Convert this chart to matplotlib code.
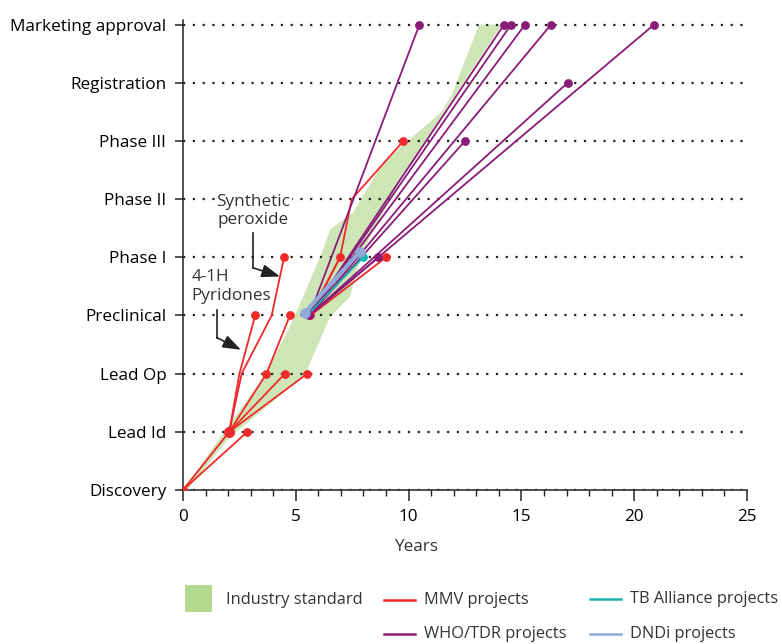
import matplotlib
matplotlib.use('Agg')
import matplotlib.pyplot as plt
from matplotlib.patches import Rectangle
from matplotlib.lines import Line2D

plt.rcParams['font.family'] = ['Open Sans', 'DejaVu Sans']
plt.rcParams['font.size'] = 12.3
plt.rcParams['text.color'] = '#333333'

# stages on the y axis
stages = ['Discovery', 'Lead Id', 'Lead Op', 'Preclinical', 'Phase I',
          'Phase II', 'Phase III', 'Registration', 'Marketing approval']

# industry standard band (years, stage)
band_x = [0, 3.63, 4.74, 5.32, 6.16, 6.52, 7.54, 8.73, 9.62, 11.44, 11.92, 13.12,
          14.14, 11.52, 9.75, 8.42, 7.93, 7.40, 6.52, 5.41, 2.08, 0.18]
band_y = [0, 1.98, 2.81, 3.32, 4.08, 4.48, 4.77, 5.54, 5.89, 6.49, 6.80, 8.0,
          8.0, 6.47, 5.42, 4.44, 4.08, 3.32, 2.98, 1.98, 0.91, 0]

# project paths: (years, stages)
mmv_paths = [
    ([0, 2.05], [0, 1]),
    ([0, 2.85], [0, 1]),
    ([2.05, 2.5, 3.2], [1, 2, 3]),
    ([2.05, 2.6, 3.93, 4.48], [1, 2, 3, 4]),
    ([2.05, 3.7], [1, 2]),
    ([3.7, 4.74], [2, 3]),
    ([2.05, 4.52], [1, 2]),
    ([2.05, 5.51], [1, 2]),
    ([5.65, 6.96], [3, 4]),
    ([5.6, 6.96, 7.48, 9.77], [3, 4, 5, 6]),
    ([5.65, 9.0], [3, 4]),
]
mmv_nodes = ([0, 5.65], [0, 3])

who_start = (5.6, 3)
who_end_x = [10.48, 14.23, 14.54, 15.16, 16.31, 20.88, 17.05, 12.5, 8.66]
who_end_y = [8, 8, 8, 8, 8, 8, 7, 6, 4]

tb_paths = [([5.5, 7.99], [3, 4])]
dndi_paths = [([5.4, 7.85], [3.05, 4.1])]

red = '#ee2a2a'
purple = '#8a1b78'
teal = '#1bb3b3'
blue = '#8fa9dc'
green = '#b5d98f'

fig = plt.figure(figsize=(7.82, 6.44), dpi=100)
ax = fig.add_axes([183 / 782, 154 / 644, 564 / 782, 470 / 644])
ax.set_xlim(0, 25)
ax.set_ylim(0, 8.08)

ax.fill(band_x, band_y, color=green, alpha=0.65, lw=0, zorder=1)

for i in range(len(stages)):
    ax.axhline(i, color='#222222', lw=1.6, ls=(0, (1, 3.4)), zorder=2)

def draw(paths, color, lw=1.3, ms=5.3):
    for xs, ys in paths:
        ax.plot(xs, ys, color=color, lw=lw, zorder=3, solid_capstyle='round')
        ax.plot(xs[-1], ys[-1], 'o', color=color, ms=ms, zorder=4)

draw(mmv_paths, red)
ax.plot(mmv_nodes[0], mmv_nodes[1], 'o', color=red, ms=5.3, zorder=4)
ax.plot(2.05, 1, 'o', color=red, ms=7, zorder=4)

who_paths = [([who_start[0], x], [who_start[1], y]) for x, y in zip(who_end_x, who_end_y)]
draw(who_paths, purple)
ax.plot(*who_start, 'o', color=purple, ms=5.3, zorder=4)
draw(tb_paths, teal)
draw(dndi_paths, blue, lw=3, ms=6.5)
ax.plot(5.4, 3.05, 'o', color=blue, ms=6.5, zorder=4)

# annotations
arrow = dict(arrowstyle='-|>,head_length=0.9,head_width=0.32', color='#222222', lw=1.2,
             shrinkA=0, shrinkB=0)
ax.text(3.12, 4.8, 'Synthetic\nperoxide', ha='center', va='center', linespacing=1.2, zorder=5,
        bbox=dict(facecolor='white', edgecolor='none', pad=1))
ax.plot([3.1, 3.1], [4.42, 3.82], color='#222222', lw=1.2, zorder=6)
ax.annotate('', xy=(4.3, 3.67), xytext=(3.1, 3.82), arrowprops=arrow, zorder=6)

ax.text(0.38, 3.5, '4-1H\nPyridones', ha='left', va='center', linespacing=1.2, zorder=5,
        bbox=dict(facecolor='white', edgecolor='none', pad=1))
ax.plot([1.5, 1.5], [3.1, 2.62], color='#222222', lw=1.2, zorder=6)
ax.annotate('', xy=(2.57, 2.41), xytext=(1.5, 2.62), arrowprops=arrow, zorder=6)

# axes styling
ax.spines['top'].set_visible(False)
ax.spines['right'].set_visible(False)
ax.spines['left'].set_bounds(0, 8.08)
for s in ('left', 'bottom'):
    ax.spines[s].set_color('#222222')
    ax.spines[s].set_linewidth(1.1)
ax.set_yticks(range(len(stages)))
ax.set_yticklabels(stages)
ax.set_xticks([0, 5, 10, 15, 20, 25])
ax.set_xticks(range(26), minor=True)
ax.tick_params(axis='y', length=6, width=1.1, color='#222222', pad=6)
ax.tick_params(axis='x', which='major', length=8, width=1.1, color='#222222', pad=6)
ax.tick_params(axis='x', which='minor', length=4, width=1.0, color='#222222')
fig.text(417 / 782, 1 - 547 / 644, 'Years', ha='center', va='center')

# legend
leg_fs = 11.8
fig.add_artist(Rectangle((185 / 782, 1 - 612 / 644), 27 / 782, 27 / 644,
                         transform=fig.transFigure, color=green, lw=0))
fig.text(226 / 782, 1 - 600 / 644, 'Industry standard', va='center', fontsize=leg_fs)
items = [(384, 600, red, 'MMV projects'), (590, 599, teal, 'TB Alliance projects'),
         (384, 634, purple, 'WHO/TDR projects'), (590, 634, blue, 'DNDi projects')]
for x0, y0, c, lab in items:
    fig.add_artist(Line2D([x0 / 782, (x0 + 31) / 782], [1 - y0 / 644] * 2,
                          transform=fig.transFigure, color=c, lw=1.8))
    fig.text((x0 + 40) / 782, 1 - y0 / 644, lab, va='center', fontsize=leg_fs)

fig.savefig('out.png', dpi=100)
